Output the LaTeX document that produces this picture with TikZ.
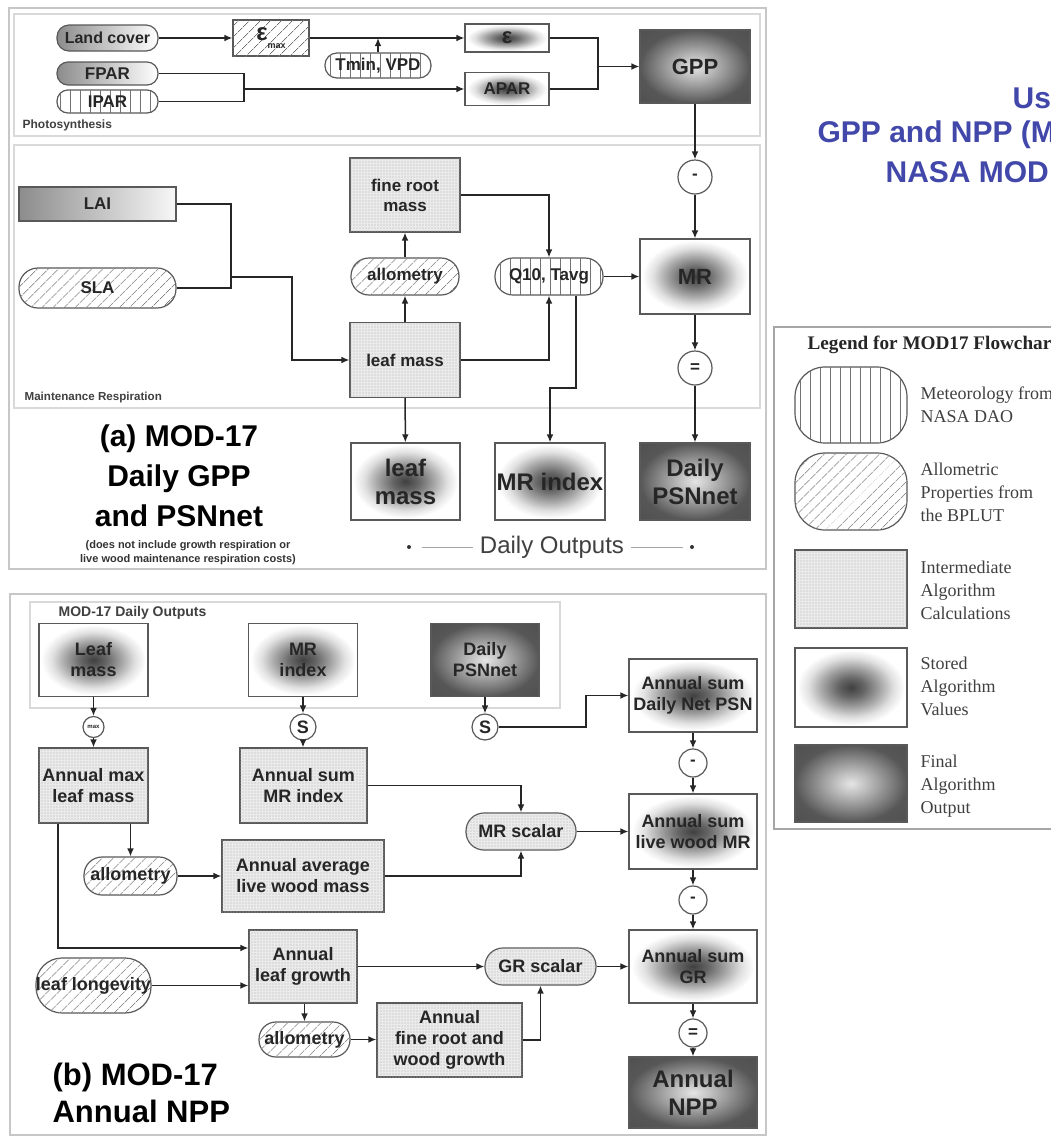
\documentclass[tikz,border=0pt]{standalone}
\usepackage{fontspec}
\setmainfont{Liberation Sans}
\newfontfamily\legendfont{Liberation Serif}
\usetikzlibrary{arrows.meta,patterns.meta}
\definecolor{titleblue}{RGB}{66,72,170}
\pgfdeclareradialshading{storedshade}{\pgfpoint{0bp}{0bp}}{color(0bp)=(black!75); color(6bp)=(black!60); color(13bp)=(black!35); color(19bp)=(black!12); color(24bp)=(white); color(50bp)=(white)}
\pgfdeclareradialshading{finalshade}{\pgfpoint{0bp}{0bp}}{color(0bp)=(black!10); color(7bp)=(black!25); color(25bp)=(black!66); color(50bp)=(black!72)}
\begin{document}
\begin{tikzpicture}[x=0.5pt, y=-0.5pt, line width=0.6pt,
  base/.style={draw=black!65, line width=0.6pt, align=center, inner sep=0pt, text=black!85, font=\fontsize{8.5}{10}\selectfont\bfseries},
  bfont/.style={font=\fontsize{9}{10.5}\selectfont\bfseries},
  ofont/.style={font=\fontsize{12}{14}\selectfont\bfseries},
  pill/.style={base, rounded corners=#1},
  hatch/.style={fill=white, postaction={pattern color=black!55, pattern={Lines[angle=45,distance=4pt,line width=0.35pt]}}},
  metlines/.style={fill=white, postaction={pattern color=black!55, pattern={Lines[angle=90,distance=5pt,line width=0.35pt]}}},
  dotfill/.style={fill=black!8, postaction={pattern color=black!30, pattern={Dots[distance=1.5pt,radius=0.3pt]}}},
  inbox/.style={base, left color=black!45, right color=black!3},
  intbox/.style={base, dotfill},
  storebox/.style={base, shade, shading=storedshade},
  finalbox/.style={base, shade, shading=finalshade},
  opcirc/.style={base, circle, fill=white},
  link/.style={draw=black!85, line width=0.75pt},
  arr/.style={link, -{Latex[length=4pt,width=3.4pt]}},
  tag/.style={inner sep=0pt, anchor=west, text=black!75, font=\fontsize{6}{7}\selectfont\bfseries}]
  \fill[white] (0,0) rectangle (1051,1137);
  \useasboundingbox (0,0) rectangle (1051,1137);
  % panel frames
  \draw[black!22, line width=1pt] (9,8) rectangle (766,569);
  \draw[black!15, line width=0.8pt] (14,14) rectangle (760,136);
  \draw[black!15, line width=0.8pt] (14,145) rectangle (760,408);
  \draw[black!22, line width=1pt] (10,594) rectangle (766,1135);
  \draw[black!15, line width=0.8pt] (30,602) rectangle (560,708);
  \draw[black!35, line width=1pt] (774,327) rectangle (1062,829);

  % (a) photosynthesis
  \node[pill=6pt, left color=black!45, right color=white, minimum width=50.5pt, minimum height=13pt, font=\fontsize{8}{9}\selectfont\bfseries] (land) at (107.5,38) {Land cover};
  \node[pill=5.5pt, left color=black!45, right color=white, minimum width=50.5pt, minimum height=11.5pt] (fpar) at (107.5,73.5) {FPAR};
  \node[pill=5.5pt, metlines, minimum width=50.5pt, minimum height=11.5pt] (ipar) at (107.5,101.5) {IPAR};
  \node[base, hatch, minimum width=38pt, minimum height=18pt] (epsmax) at (271,38) {{\fontsize{12}{12}\selectfont ε}\raisebox{-4pt}{\fontsize{4.5}{5}\selectfont max}};
  \node[storebox, minimum width=42pt, minimum height=14pt] (eps) at (507,38) {{\fontsize{11}{11}\selectfont ε}};
  \node[pill=6pt, metlines, minimum width=53pt, minimum height=12.5pt] (tmin) at (378,65.5) {Tmin, VPD};
  \node[storebox, minimum width=42pt, minimum height=16.5pt] (apar) at (507,89) {APAR};
  \node[finalbox, minimum width=55pt, minimum height=36.5pt, font=\fontsize{11}{13}\selectfont\bfseries] (gpp) at (695,66.5) {GPP};
  \node[tag] (photo) at (22,125) {Photosynthesis};
  \coordinate (jpar) at (244,89);
  \coordinate (jgpp) at (598,66.5);
  \draw[arr] (land) -- (epsmax);
  \draw[arr] (epsmax) -- (eps);
  \draw[arr] (tmin.north) -- (tmin.north |- eps.west);
  \draw[link] (fpar.east) -| (jpar) |- (ipar.east);
  \draw[arr] (jpar) -- (apar.west);
  \draw[link] (eps.east) -| (jgpp) |- (apar.east);
  \draw[arr] (jgpp) -- (gpp.west);

  % (a) maintenance respiration
  \node[tag, font=\fontsize{5.8}{7}\selectfont\bfseries] (maint) at (24,397) {Maintenance Respiration};
  \node[inbox, minimum width=78.5pt, minimum height=17pt] (lai) at (97.5,204) {LAI};
  \node[pill=9.5pt, hatch, minimum width=78.5pt, minimum height=20pt] (sla) at (97.5,288) {SLA};
  \node[intbox, minimum width=55pt, minimum height=37pt] (fineroot) at (405,195) {fine root\\mass};
  \node[pill=9pt, hatch, minimum width=54pt, minimum height=18.5pt] (allomA) at (405,276.5) {allometry};
  \node[intbox, minimum width=55pt, minimum height=37.5pt] (leafmass) at (405,360) {leaf mass};
  \node[pill=9pt, metlines, minimum width=54pt, minimum height=18.5pt] (q10) at (549,276.5) {Q10, Tavg};
  \node[storebox, minimum width=55pt, minimum height=37.5pt, font=\fontsize{11}{13}\selectfont\bfseries] (mr) at (695,276.5) {MR};
  \node[opcirc, minimum size=17pt] (minusA) at (695,177) {-};
  \node[opcirc, minimum size=17pt] (eqA) at (695,368) {=};
  \coordinate (jlai) at (231,277);
  \coordinate (jq10) at (576,388);
  \draw[link] (lai.east) -| (jlai) |- (sla.east);
  \draw[arr] (jlai) -- ++(61,0) |- (leafmass.west);
  \draw[arr] (leafmass) -- (allomA);
  \draw[arr] (allomA) -- (fineroot);
  \draw[arr] (fineroot.east) -| (q10.north);
  \draw[arr] (leafmass.east) -| (q10.south);
  \draw[arr] (q10) -- (mr);
  \draw[arr] (gpp) -- (minusA);
  \draw[arr] (minusA) -- (mr);
  \draw[arr] (mr) -- (eqA);

  % (a) daily outputs
  \node[storebox, ofont, minimum width=54.5pt, minimum height=38.5pt] (leafout) at (405.5,481.5) {leaf\\mass};
  \node[storebox, ofont, minimum width=55pt, minimum height=38.5pt] (mrindex) at (550,481.5) {MR index};
  \node[finalbox, ofont, minimum width=55pt, minimum height=38.5pt] (psnA) at (695,481.5) {Daily\\PSNnet};
  \draw[arr] (q10.south -| jq10) -- (jq10) -| (mrindex.north);
  \draw[arr] (leafmass) -- (leafout);
  \draw[arr] (eqA) -- (psnA);
  \node[font=\fontsize{15}{20}\selectfont\bfseries, align=center] (titleA) at (179,476) {(a) MOD-17\\Daily GPP\\and PSNnet};
  \node[font=\fontsize{5.5}{7}\selectfont\bfseries, align=center, text=black!80] (noteA) at (188,553) {(does not include growth respiration or\\live wood maintenance respiration costs)};
  \node[font=\fontsize{12}{14}\selectfont, text=black!75] (dailyout) at (552,547) {Daily Outputs};
  \node[circle, fill=black!80, inner sep=0pt, minimum size=2pt] (dotl) at (409,547) {};
  \node[circle, fill=black!80, inner sep=0pt, minimum size=2pt] (dotr) at (692,547) {};
  \draw[black!35, line width=0.4pt] ([xshift=5pt]dotl.east) -- (dailyout.west);
  \draw[black!35, line width=0.4pt] (dailyout.east) -- ([xshift=-3pt]dotr.west);

  % (b) annual NPP
  \node[tag, font=\fontsize{7}{8}\selectfont\bfseries] (dailylab) at (58,613) {MOD-17 Daily Outputs};
  \node[storebox, bfont, minimum width=54.5pt, minimum height=36.5pt] (leafD) at (93.5,660) {Leaf\\mass};
  \node[storebox, bfont, minimum width=54.5pt, minimum height=36.5pt] (mrD) at (303,660) {MR\\index};
  \node[finalbox, bfont, minimum width=54pt, minimum height=36.5pt] (psnD) at (485,660) {Daily\\PSNnet};
  \node[opcirc, minimum size=10.5pt, font=\fontsize{3}{3}\selectfont\bfseries] (maxC) at (93.5,727) {max};
  \node[opcirc, minimum size=13pt, bfont] (sC1) at (303,727) {S};
  \node[opcirc, minimum size=13pt, bfont] (sC2) at (485,727) {S};
  \node[intbox, bfont, minimum width=54.5pt, minimum height=37.5pt] (amax) at (93.5,785.5) {Annual max\\leaf mass};
  \node[intbox, bfont, minimum width=63.5pt, minimum height=37.5pt] (asumMR) at (303.5,785.5) {Annual sum\\MR index};
  \node[storebox, bfont, minimum width=64pt, minimum height=36.5pt] (asumPSN) at (693,695.5) {Annual sum\\Daily Net PSN};
  \node[opcirc, minimum size=14pt] (minB1) at (693,763) {-};
  \node[storebox, bfont, minimum width=64pt, minimum height=37.5pt] (awMR) at (693,831.5) {Annual sum\\live wood MR};
  \node[pill=9pt, dotfill, bfont, minimum width=55pt, minimum height=18.5pt] (mrscalar) at (521,831.5) {MR scalar};
  \node[pill=9pt, hatch, bfont, minimum width=46.5pt, minimum height=19pt] (allomB1) at (130.5,876) {allometry};
  \node[intbox, bfont, minimum width=81pt, minimum height=36pt] (awood) at (303,876) {Annual average\\live wood mass};
  \node[opcirc, minimum size=14pt] (minB2) at (693,900) {-};
  \node[storebox, bfont, minimum width=64pt, minimum height=36.5pt] (asumGR) at (693,966.5) {Annual sum\\GR};
  \node[opcirc, minimum size=14pt] (eqB) at (693,1033) {=};
  \node[finalbox, ofont, minimum width=64pt, minimum height=35.5pt] (npp) at (693,1092.5) {Annual\\NPP};
  \node[intbox, bfont, minimum width=54pt, minimum height=36.5pt] (aleaf) at (303,966.5) {Annual\\leaf growth};
  \node[pill=13pt, hatch, bfont, minimum width=54.5pt, minimum height=27.5pt] (longev) at (93.5,985.5) {leaf longevity};
  \node[pill=9pt, dotfill, bfont, minimum width=55.5pt, minimum height=18.5pt] (grscalar) at (540.5,966.5) {GR scalar};
  \node[pill=8.5pt, hatch, bfont, minimum width=45.5pt, minimum height=17.5pt] (allomB2) at (304.5,1039.5) {allometry};
  \node[intbox, bfont, minimum width=72.5pt, minimum height=37pt] (afine) at (449.5,1040) {Annual\\fine root and\\wood growth};
  \node[font=\fontsize{15.5}{18.5}\selectfont\bfseries, align=left, anchor=west, inner sep=0pt] (titleB) at (52,1093) {(b) MOD-17\\Annual NPP};
  \coordinate (kpsn) at (586,727);
  \coordinate (kmax) at (58,948);
  \draw[arr] (leafD) -- (maxC);
  \draw[arr] (maxC) -- (amax);
  \draw[arr] (mrD) -- (sC1);
  \draw[arr] (sC1.south) -- (sC1.south |- asumMR.north);
  \draw[arr] (psnD) -- (sC2);
  \draw[arr] (sC2.east) -- (kpsn) |- (asumPSN.west);
  \draw[arr] (asumPSN) -- (minB1);
  \draw[arr] (minB1) -- (awMR);
  \draw[arr] (asumMR.east) -| (mrscalar.north);
  \draw[arr] (mrscalar) -- (awMR);
  \draw[arr] (awood.east) -| (mrscalar.south);
  \draw[arr] (amax.south -| allomB1.north) -- (allomB1.north);
  \draw[arr] (allomB1) -- (awood);
  \draw[arr] (amax.south -| kmax) -- (kmax) -- (kmax -| aleaf.west);
  \draw[arr] (longev.east) -- (longev.east -| aleaf.west);
  \draw[arr] (aleaf) -- (grscalar);
  \draw[arr] (grscalar) -- (asumGR);
  \draw[arr] (aleaf.south -| allomB2.north) -- (allomB2.north);
  \draw[arr] (allomB2.east) -- (allomB2.east -| afine.west);
  \draw[arr] (afine.east) -| (grscalar.south);
  \draw[arr] (awMR) -- (minB2);
  \draw[arr] (minB2) -- (asumGR);
  \draw[arr] (asumGR) -- (eqB);
  \draw[arr] (eqB) -- (npp);

  % legend
  \node[inner sep=0pt, anchor=west, text=black!85, font=\legendfont\fontsize{9.6}{11}\selectfont\bfseries] (lgtitle) at (807,345) {Legend for MOD17 Flowchart};
  \node[pill=15pt, metlines, minimum width=56pt, minimum height=38pt] (lgmet) at (851,405) {};
  \node[pill=15pt, hatch, minimum width=56pt, minimum height=38.5pt] (lgall) at (851,491.5) {};
  \node[intbox, minimum width=56pt, minimum height=39pt] (lgint) at (851,589) {};
  \node[storebox, minimum width=56pt, minimum height=39.5pt] (lgsto) at (851,687.5) {};
  \node[finalbox, minimum width=56pt, minimum height=38.5pt] (lgfin) at (851,783.5) {};
  \begin{scope}[every node/.style={inner sep=0pt, anchor=west, align=left, text=black!75, font=\legendfont\fontsize{9}{11.5}\selectfont}]
    \node (lgmettxt) at (920,405) {Meteorology from\\NASA DAO};
    \node (lgalltxt) at (920,492) {Allometric\\Properties from\\the BPLUT};
    \node (lginttxt) at (920,590) {Intermediate\\Algorithm\\Calculations};
    \node (lgstotxt) at (920,686) {Stored\\Algorithm\\Values};
    \node (lgfintxt) at (920,786) {Final\\Algorithm\\Output};
  \end{scope}

  % title, cut at the right edge as in the source
  \begin{scope}[every node/.style={inner sep=0pt, anchor=west, text=titleblue, font=\fontsize{15}{18}\selectfont\bfseries}]
    \node (titleUs) at (1012,98) {Us};
    \node (titleGpp) at (817,135) {GPP and NPP (M};
    \node (titleNasa) at (885,172) {NASA MOD};
  \end{scope}
\end{tikzpicture}
\end{document}
